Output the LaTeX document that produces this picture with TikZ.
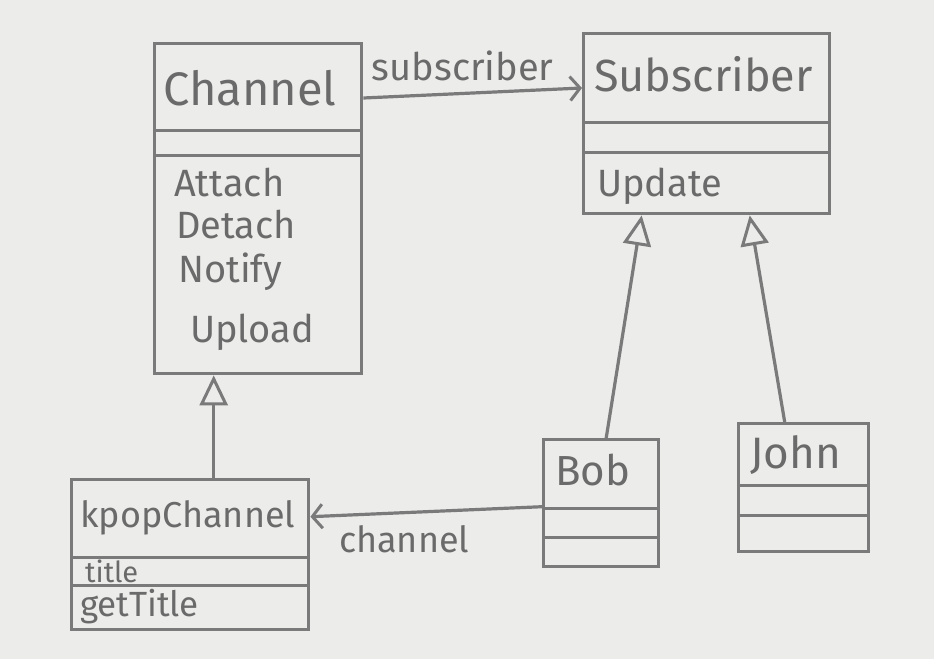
\documentclass[tikz,border=0pt]{standalone}
\usepackage{fontspec}
\setmainfont{Fira Sans}
\usetikzlibrary{arrows.meta}
\definecolor{paper}{HTML}{ECECEA}
\definecolor{pencil}{HTML}{7A7A7A}
\definecolor{ink}{HTML}{6A6A6A}
\tikzset{
  umlbox/.style={draw=pencil, line width=3.4pt, inner sep=0pt, anchor=north west},
  sepline/.style={draw=pencil, line width=3pt},
  lbl/.style={text=ink, inner sep=0pt, anchor=west},
  inherit/.style={draw=pencil, line width=3.2pt, -{Triangle[open, length=30pt, width=28pt, line width=3pt]}},
  assoc/.style={draw=pencil, line width=3.2pt, -{Straight Barb[length=10pt, width=24pt, line width=3pt]}}
}
\begin{document}
\begin{tikzpicture}[x=1pt, y=-1pt]
\fill[paper] (0,0) rectangle (934,659);
\useasboundingbox (0,0) rectangle (934,659);

% Channel
\node[umlbox, minimum width=207pt, minimum height=330pt] (channel) at (153,42) {};
\draw[sepline] (153,130) -- (360,130);
\draw[sepline] (153,155) -- (360,155);
\node[lbl, font=\fontsize{47}{49}\selectfont] (channelname) at (163,88) {Channel};
\node[lbl, font=\fontsize{38}{40}\selectfont] (attach) at (174,183) {Attach};
\node[lbl, font=\fontsize{38}{40}\selectfont] (detach) at (176,225) {Detach};
\node[lbl, font=\fontsize{38}{40}\selectfont] (notify) at (178,272) {Notify};
\node[lbl, font=\fontsize{38}{40}\selectfont] (upload) at (190,332) {Upload};

% Subscriber
\node[umlbox, minimum width=246pt, minimum height=180pt] (subscriber) at (582,32) {};
\draw[sepline] (582,122) -- (828,122);
\draw[sepline] (582,152) -- (828,152);
\node[lbl, font=\fontsize{45}{47}\selectfont] (subname) at (594,74) {Subscriber};
\node[lbl, font=\fontsize{38}{40}\selectfont] (update) at (597,186) {Update};

% KpopChannel
\node[umlbox, minimum width=237pt, minimum height=150pt] (kpop) at (70,478) {};
\draw[sepline] (70,557) -- (307,557);
\draw[sepline] (70,585) -- (307,585);
\node[lbl, font=\fontsize{36}{38}\selectfont] (kpopname) at (80,518) {kpopChannel};
\node[lbl, font=\fontsize{29}{31}\selectfont] (title) at (85,571) {title};
\node[lbl, font=\fontsize{35}{37}\selectfont] (gettitle) at (80,607) {getTitle};

% Bob
\node[umlbox, minimum width=115pt, minimum height=127pt] (bob) at (542,438) {};
\draw[sepline] (542,508) -- (657,508);
\draw[sepline] (542,537) -- (657,537);
\node[lbl, font=\fontsize{42}{44}\selectfont] (bobname) at (555,470) {Bob};

% John
\node[umlbox, minimum width=130pt, minimum height=128pt] (john) at (737,422) {};
\draw[sepline] (737,485) -- (867,485);
\draw[sepline] (737,515) -- (867,515);
\node[lbl, font=\fontsize{44}{46}\selectfont] (johnname) at (750,455) {John};

% Connectors
\draw[assoc] ([yshift=-56pt]channel.north east) -- node[above=7pt, xshift=-10pt, text=ink, font=\fontsize{38}{40}\selectfont] {subscriber} ([yshift=-56pt]subscriber.north west);
\draw[inherit] ([xshift=23.5pt]kpop.north) -- ([xshift=23.5pt]kpop.north |- channel.south);
\draw[inherit] ([xshift=5pt]bob.north) -- ([xshift=-65pt]subscriber.south);
\draw[inherit] ([xshift=-19pt]john.north) -- ([xshift=43pt]subscriber.south);
\draw[assoc] ([yshift=-3.5pt]bob.west) -- node[below=9pt, xshift=-22pt, text=ink, font=\fontsize{36}{38}\selectfont] {channel} ([yshift=38pt]kpop.east);
\end{tikzpicture}
\end{document}
